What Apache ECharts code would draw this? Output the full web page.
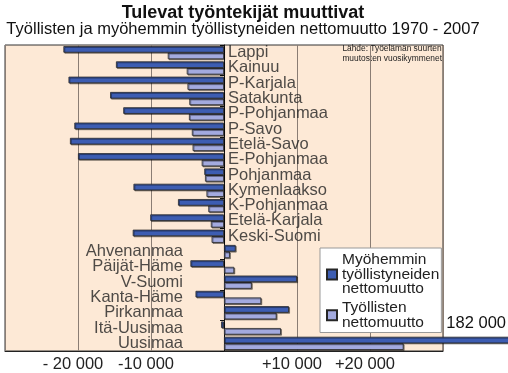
<!DOCTYPE html>
<html>
<head>
<meta charset="utf-8">
<script src="https://cdn.jsdelivr.net/npm/echarts@6/dist/echarts.min.js"></script>
<style>html,body{margin:0;padding:0;background:#fff}#c{width:508px;height:373px}</style>
</head>
<body>
<div id="c"></div>
<script>
const categories = ['Lappi','Kainuu','P-Karjala','Satakunta','P-Pohjanmaa','P-Savo','Etelä-Savo','E-Pohjanmaa','Pohjanmaa','Kymenlaakso','K-Pohjanmaa','Etelä-Karjala','Keski-Suomi','Ahvenanmaa','Päijät-Häme','V-Suomi','Kanta-Häme','Pirkanmaa','Itä-Uusimaa','Uusimaa'];
const labelSide = ['right','right','right','right','right','right','right','right','right','right','right','right','right','left','left','left','left','left','left','left'];
const myohemmin = [-22000,-14800,-21300,-15600,-13800,-20500,-21100,-20000,-2700,-12400,-6300,-10100,-12500,1600,-4600,10000,-3900,8900,-400,182000];
const tyollisten = [-7700,-5100,-5000,-4750,-4800,-4400,-4300,-3050,-2600,-2400,-2150,-1800,-1700,800,1400,3800,5100,7200,7800,24600];
const tickLabels = {'-20000':'- 20 000','-10000':'-10 000','10000':'+10 000','20000':'+20 000'};
const seriesNames = ['Myöhemmin\ntyöllistyneiden\nnettomuutto','Työllisten\nnettomuutto'];
const bigLabel = '182 000';
const titleText = 'Tulevat työntekijät muuttivat';
const subtitleText = 'Työllisten ja myöhemmin työllistyneiden nettomuutto 1970 - 2007';
const sourceText = 'Lähde: Työelämän suurten\nmuutosten vuosikymmenet';

const FONT = '"Liberation Sans", Arial, sans-serif';
const chart = echarts.init(document.getElementById('c'), null, {renderer:'canvas'});
const barStyle = (color) => ({
  color: color, borderColor: '#262626', borderWidth: 0.8,
  shadowColor: 'rgba(0,0,0,0.45)', shadowOffsetX: 1, shadowOffsetY: 1, shadowBlur: 0
});
chart.setOption({
  animation: false,
  textStyle: {fontFamily: FONT},
  title: [{
    text: titleText, left: 238, top: -1, textAlign: 'center',
    textStyle: {fontFamily: FONT, fontSize: 18, fontWeight: 'bold', color: '#111'}
  },{
    text: subtitleText, left: 238, top: 16, textAlign: 'center',
    textStyle: {fontFamily: FONT, fontSize: 16.5, fontWeight: 'normal', color: '#111'}
  }],
  legend: {
    data: seriesNames, orient: 'vertical', left: 320, top: 248,
    backgroundColor: '#fff', borderColor: '#999', borderWidth: 1,
    padding: [4, 2, 2, 6], itemGap: 3, itemWidth: 10, itemHeight: 10,
    icon: 'rect',
    textStyle: {fontFamily: FONT, fontSize: 15.5, lineHeight: 14.5, color: '#222'}
  },
  grid: {left: 5, right: 65, top: 45, bottom: 21, show: true,
    backgroundColor: '#FDE9D6', borderColor: '#333', borderWidth: 1},
  xAxis: {
    type: 'value', min: -30000, max: 30000, interval: 10000,
    axisLine: {show: true, lineStyle: {color: '#222', width: 1}},
    axisTick: {show: false},
    splitLine: {show: true, lineStyle: {color: '#8a7d74', width: 1}},
    axisLabel: {
      fontFamily: FONT, fontSize: 16.5, color: '#222', margin: 5,
      padding: [0, 10, 0, 0],
      formatter: v => tickLabels[String(v)] || ''
    }
  },
  yAxis: {
    type: 'category', data: categories, inverse: true,
    axisLine: {show: true, onZero: true, lineStyle: {color: '#111', width: 1}},
    axisTick: {show: true, length: 4, lineStyle: {color: '#111'}},
    axisLabel: {show: false}
  },
  series: [{
    name: seriesNames[0], type: 'bar', data: myohemmin, clip: false,
    barGap: '0%', barCategoryGap: '14%',
    itemStyle: barStyle('#3D5DB2'), z: 3
  },{
    name: seriesNames[1], type: 'bar', data: tyollisten,
    barGap: '0%', barCategoryGap: '14%',
    itemStyle: barStyle('#A3AADF'), z: 2
  },{
    type: 'scatter', symbolSize: 0, silent: true, z: 5,
    data: categories.map((c, i) => ({
      value: [0, i],
      label: {show: true, position: labelSide[i], distance: labelSide[i] === 'right' ? 4 : 41,
        formatter: c, fontFamily: FONT, fontSize: 16.5, color: '#222'}
    }))
  }],
  graphic: [{
    type: 'text', right: 2, top: 315,
    style: {text: bigLabel, font: '16.5px ' + FONT, fill: '#111'}
  },{
    type: 'text', right: 66, top: 44,
    style: {text: sourceText, font: '8.4px ' + FONT, fill: '#222', align: 'right', lineHeight: 9.5}
  }]
});
</script>
</body>
</html>
